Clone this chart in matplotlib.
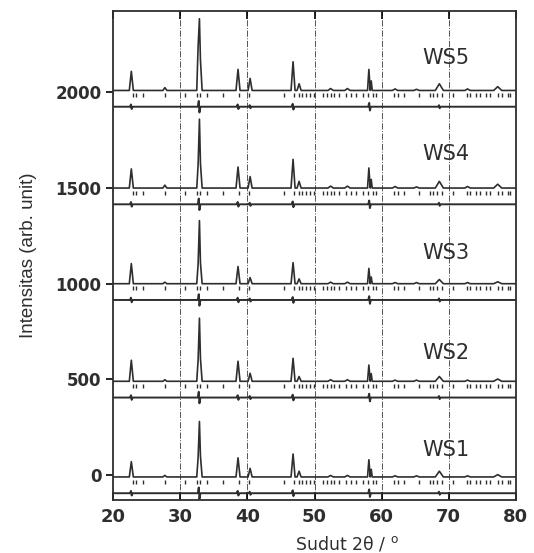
import numpy as np
import matplotlib.pyplot as plt

plt.rcParams['font.family'] = ['DejaVu Sans']

# isolated peaks: position (2theta), half width, heights per pattern
peak_pos = [22.7, 27.7, 38.6, 40.4, 46.8, 47.7, 52.4, 54.9,
            58.1, 58.45, 62.0, 65.2, 68.6, 72.8, 77.3]
peak_w = [0.3, 0.3, 0.3, 0.3, 0.3, 0.3, 0.4, 0.4,
          0.2, 0.15, 0.4, 0.4, 0.6, 0.4, 0.6]

samples = ["WS1", "WS2", "WS3", "WS4", "WS5"]
offsets = [-10, 490, 1000, 1500, 2010]
heights = {
    "WS1": [80, 8, 100, 45, 120, 30, 8, 8, 90, 40, 6, 6, 30, 6, 12],
    "WS2": [110, 8, 105, 42, 120, 25, 8, 8, 85, 40, 6, 6, 25, 6, 12],
    "WS3": [105, 8, 90, 32, 110, 25, 8, 8, 80, 35, 6, 6, 22, 6, 10],
    "WS4": [100, 15, 110, 60, 150, 35, 10, 10, 105, 45, 8, 6, 35, 8, 20],
    "WS5": [100, 15, 110, 63, 150, 35, 10, 10, 110, 50, 8, 6, 35, 8, 20],
}
# main reflection with its shoulders
main_x = [32.45, 32.65, 32.85, 33.0, 33.25]
main_y = {
    "WS1": [0, 100, 290, 110, 0],
    "WS2": [0, 110, 330, 120, 0],
    "WS3": [0, 100, 330, 110, 0],
    "WS4": [0, 120, 360, 130, 0],
    "WS5": [0, 230, 375, 160, 0],
}
label_y = [130, 637, 1160, 1680, 2180]

# Bragg reflection positions
bragg = [22.9, 23.4, 24.4, 27.7, 30.7, 32.5, 32.9, 34.0, 36.4, 38.7, 40.2, 45.4,
         46.9, 47.7, 48.2, 48.8, 49.4, 49.9, 51.2, 51.9, 52.4, 52.9, 53.7, 54.7,
         55.4, 56.2, 57.2, 57.9, 58.7, 59.2, 61.9, 62.4, 63.4, 65.5, 67.2, 67.7,
         68.2, 69.0, 70.7, 72.7, 73.2, 74.0, 74.7, 75.5, 76.2, 77.3, 78.0, 78.8, 79.2]

# difference curve spikes
diff_pos = [22.7, 32.8, 38.6, 40.4, 46.8, 58.2, 68.6]
diff_amp = [12, 30, 12, 8, 15, 20, 8]

col = '#2e2e2e'
fig, ax = plt.subplots(figsize=(5.34, 5.53), dpi=100)
fig.subplots_adjust(left=0.212, right=0.966, bottom=0.096, top=0.980)

for s, off, ly in zip(samples, offsets, label_y):
    pts = [(20.0, 0), (80.0, 0)]
    for p, w, h in zip(peak_pos, peak_w, heights[s]):
        pts += [(p - w, 0), (p, h), (p + w, 0)]
    pts += list(zip(main_x, main_y[s]))
    pts.sort(key=lambda t: t[0])
    xs = [t[0] for t in pts]
    ys = [off + t[1] for t in pts]
    ax.plot(xs, ys, color=col, lw=1.2)

    ax.plot(bragg, [off - 25] * len(bragg), ls='none', marker='|',
            ms=3.5, mew=1.0, color=col)

    dx, dy = [20.0], [off - 85]
    for p, a in zip(diff_pos, diff_amp):
        dx += [p - 0.2, p - 0.05, p + 0.05, p + 0.2]
        dy += [off - 85, off - 85 + a, off - 85 - a, off - 85]
    dx.append(80.0)
    dy.append(off - 85)
    ax.plot(dx, dy, color=col, lw=1.4)

    ax.text(66.0, ly, s, fontsize=15, color=col, va='center', ha='left')

for g in [30, 40, 50, 60, 70]:
    ax.axvline(g, color='#555555', lw=0.7, ls='-.', zorder=0)

ax.set_xlim(20, 80)
ax.set_ylim(-130, 2425)
ax.set_xticks([20, 30, 40, 50, 60, 70, 80])
ax.set_yticks([0, 500, 1000, 1500, 2000])
ax.tick_params(axis='x', direction='in', top=True, length=6, width=1.2,
               labelsize=13, labelcolor=col, pad=6)
ax.tick_params(axis='y', direction='out', length=5, width=1.2,
               labelsize=12, labelcolor=col)
for lab in ax.get_xticklabels() + ax.get_yticklabels():
    lab.set_fontweight('bold')
for sp in ax.spines.values():
    sp.set_linewidth(1.3)
    sp.set_color(col)

ax.set_xlabel("Sudut 2θ / $^{\\mathrm{o}}$", fontsize=12.5, color=col)
ax.xaxis.set_label_coords(0.58, -0.07)
ax.set_ylabel("Intensitas (arb. unit)", fontsize=13.5, color=col,
              family='Liberation Sans')
ax.yaxis.set_label_coords(-0.19, 0.50)

fig.savefig("out.png", dpi=100)
